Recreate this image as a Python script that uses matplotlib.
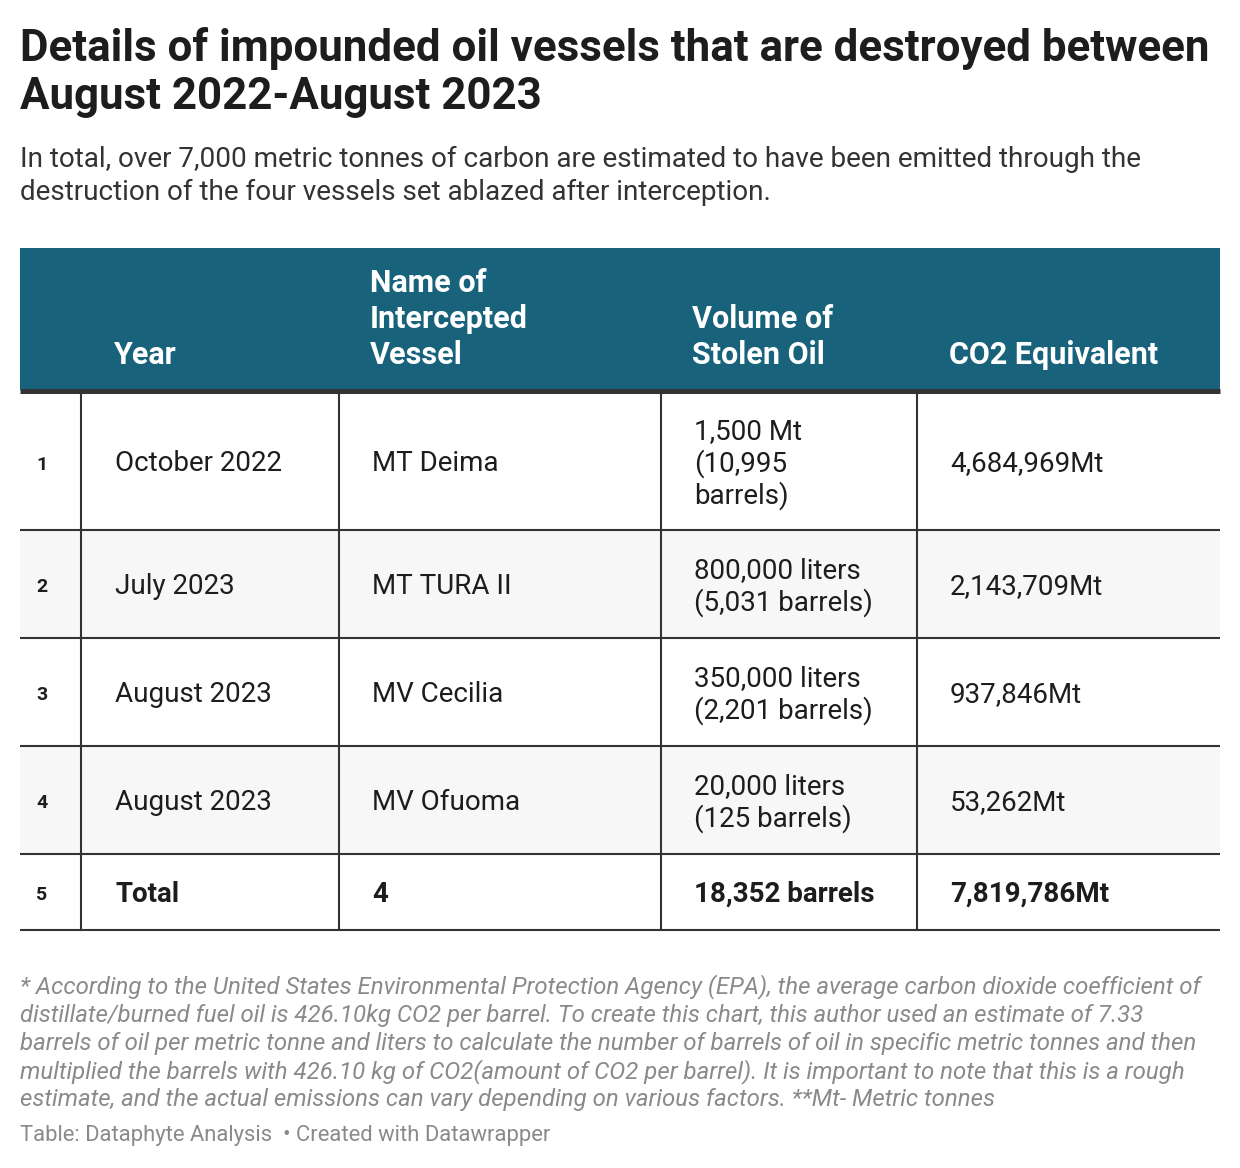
import matplotlib
matplotlib.use("Agg")
import matplotlib.pyplot as plt
from matplotlib.patches import Rectangle

plt.rcParams['font.family'] = ['Roboto', 'DejaVu Sans']

title = "Details of impounded oil vessels that are destroyed between\nAugust 2022-August 2023"
subtitle = ("In total, over 7,000 metric tonnes of carbon are estimated to have been emitted through the\n"
            "destruction of the four vessels set ablazed after interception.")
headers = ["", "Year", "Name of\nIntercepted\nVessel", "Volume of\nStolen Oil", "CO2 Equivalent"]
row_ids = ["1", "2", "3", "4", "5"]
years = ["October 2022", "July 2023", "August 2023", "August 2023", "Total"]
vessels = ["MT Deima", "MT TURA II", "MV Cecilia", "MV Ofuoma", "4"]
volumes = ["1,500 Mt\n(10,995\nbarrels)", "800,000 liters\n(5,031 barrels)", "350,000 liters\n(2,201 barrels)",
           "20,000 liters\n(125 barrels)", "18,352 barrels"]
co2 = ["4,684,969Mt", "2,143,709Mt", "937,846Mt", "53,262Mt", "7,819,786Mt"]
note = ("* According to the United States Environmental Protection Agency (EPA), the average carbon dioxide coefficient of\n"
        "distillate/burned fuel oil is 426.10kg CO2 per barrel. To create this chart, this author used an estimate of 7.33\n"
        "barrels of oil per metric tonne and liters to calculate the number of barrels of oil in specific metric tonnes and then\n"
        "multiplied the barrels with 426.10 kg of CO2(amount of CO2 per barrel). It is important to note that this is a rough\n"
        "estimate, and the actual emissions can vary depending on various factors. **Mt- Metric tonnes")
source = "Table: Dataphyte Analysis  \u2022 Created with Datawrapper"

W, H = 1240, 1168
fig = plt.figure(figsize=(W / 100, H / 100), dpi=100)
ax = fig.add_axes([0, 0, 1, 1])
ax.set_xlim(0, W)
ax.set_ylim(H, 0)
ax.axis('off')

TXT = '#1d1d1d'
HEAD = '#18627b'
LINE = '#333333'
lw = 1.5
dy = 2.5

# title/subtitle
ax.text(20, 46 + dy, title.split("\n")[0], fontsize=31.6, fontweight='bold', color=TXT, va='center', ha='left')
ax.text(20, 95 + dy, title.split("\n")[1], fontsize=31.6, fontweight='bold', color=TXT, va='center', ha='left')
for i, s in enumerate(subtitle.split("\n")):
    ax.text(20, 157 + dy + 33 * i, s, fontsize=20.1, color='#333333', va='center', ha='left')

# table geometry
tx0, tx1 = 20, 1220
col_x = [20, 81, 339, 661, 917, 1220]
head_top, head_bot = 248, 390
row_y = [392, 530, 638, 746, 854, 930]

ax.add_patch(Rectangle((tx0, head_top), tx1 - tx0, head_bot - head_top, color=HEAD, lw=0))
ax.plot([tx0, tx1], [390.5, 390.5], color=LINE, lw=3.6, solid_capstyle='butt')

for r in range(5):
    if r in (1, 3):
        ax.add_patch(Rectangle((tx0, row_y[r]), tx1 - tx0, row_y[r + 1] - row_y[r], color='#f7f7f7', lw=0))
for y in row_y[1:]:
    ax.plot([tx0, tx1], [y, y], color=LINE, lw=lw, solid_capstyle='butt')
for x in col_x[1:-1]:
    ax.plot([x, x], [row_y[0], row_y[-1]], color=LINE, lw=lw, solid_capstyle='butt')

# headers
text_x = [42, 113, 370, 692, 949]
for j, h in enumerate(headers):
    lines = h.split("\n")
    n = len(lines)
    for k, ln in enumerate(lines):
        ax.text(text_x[j], 353 + dy - 36 * (n - 1 - k), ln, fontsize=22, fontweight='bold', color='white',
                va='center', ha='left')

# body
body_x = [42, 115, 372, 694, 950]
line_h = 32
for r in range(5):
    yc = (row_y[r] + row_y[r + 1]) / 2 + dy
    bold = (r == 4)
    ax.text(body_x[0], yc + 1, row_ids[r], fontsize=14, fontweight='bold', color=TXT, va='center', ha='center')
    for j, col in enumerate([years, vessels, volumes, co2]):
        lines = col[r].split("\n")
        n = len(lines)
        for k, ln in enumerate(lines):
            y = yc + (k - (n - 1) / 2) * line_h
            ax.text(body_x[j + 1], y, ln, fontsize=20, fontweight='bold' if bold else 'normal',
                    color=TXT, va='center', ha='left')

# notes
for i, s in enumerate(note.split("\n")):
    ax.text(20, 986 + 1 + 28.2 * i, s, fontsize=17.3, style='italic', color='#8a8a8a', va='center', ha='left')
ax.text(20, 1136, source, fontsize=15.8, color='#8a8a8a', va='center', ha='left')

fig.savefig("out.png", dpi=100, facecolor='white')
